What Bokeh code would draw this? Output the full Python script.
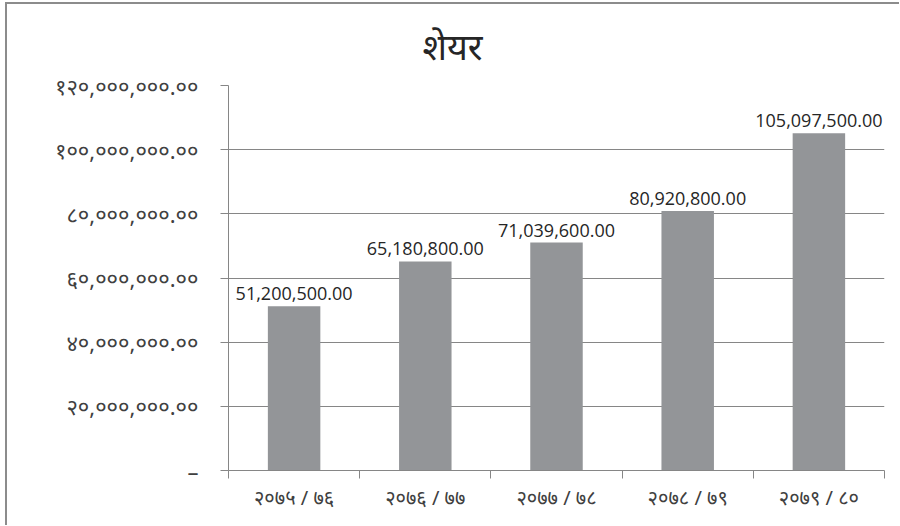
from bokeh.plotting import figure
from bokeh.models import FixedTicker, Range1d, ColumnDataSource, LabelSet, Title
from bokeh.embed import file_html
from bokeh.resources import INLINE
from bokeh.core.properties import value

title_text = "शेयर"
categories = ["२०७५ / ७६", "२०७६ / ७७", "२०७७ / ७८", "२०७८ / ७९", "२०७९ / ८०"]
values = [51200500.00, 65180800.00, 71039600.00, 80920800.00, 105097500.00]
y_ticks = [0, 20000000, 40000000, 60000000, 80000000, 100000000, 120000000]
y_tick_labels = ["–", "२०,०००,०००.००", "४०,०००,०००.००", "६०,०००,०००.००",
                 "८०,०००,०००.००", "१००,०००,०००.००", "१२०,०००,०००.००"]

positions = [i + 0.5 for i in range(len(categories))]
labels = [f"{v:,.2f}" for v in values]
src = ColumnDataSource(dict(x=positions, top=values, label=labels))

AX = "#868686"
p = figure(output_backend="svg", toolbar_location=None,
           frame_width=656, frame_height=385,
           min_border_left=221, min_border_right=15, min_border_top=81, min_border_bottom=55,
           x_range=Range1d(0, len(categories)), y_range=Range1d(0, 120000000))
p.styles = {"margin-left": "5px", "margin-top": "2px",
            "border-left": "2px solid #8c8c8c", "border-top": "2px solid #8c8c8c"}
p.outline_line_color = None
p.background_fill_color = "white"
p.border_fill_color = "white"

p.vbar(x="x", top="top", width=0.4, source=src, fill_color="#939598", line_color=None)

lab = LabelSet(x="x", y="top", text="label", source=src, text_align="center",
               text_baseline="bottom", y_offset=6, text_font=value("Open Sans"),
               text_font_size=value("18px"), text_color=value("#262626"))
p.add_layout(lab)

# title
t = Title(text=title_text, align="left", offset=194, text_font="Noto Sans",
          text_font_size="36px", text_font_style="normal", text_color="#262626", standoff=29)
p.add_layout(t, "above")

# grid
p.xgrid.visible = False
p.ygrid.ticker = FixedTicker(ticks=y_ticks)
p.ygrid.grid_line_color = AX
p.ygrid.grid_line_width = 1

# y axis
p.yaxis.ticker = FixedTicker(ticks=y_ticks)
p.yaxis.major_label_overrides = {t_: l for t_, l in zip(y_ticks, y_tick_labels)}
p.yaxis.axis_line_color = AX
p.yaxis.major_tick_line_color = AX
p.yaxis.major_tick_out = 8
p.yaxis.major_tick_in = 0
p.yaxis.minor_tick_line_color = None
p.yaxis.major_label_standoff = 22
p.yaxis.major_label_text_font = "Noto Sans"
p.yaxis.major_label_text_font_size = "22px"
p.yaxis.major_label_text_color = "#404040"

# x axis
p.xaxis.ticker = FixedTicker(ticks=positions, minor_ticks=list(range(len(categories) + 1)))
p.xaxis.major_label_overrides = {pos: c for pos, c in zip(positions, categories)}
p.xaxis.axis_line_color = AX
p.xaxis.major_tick_line_color = None
p.xaxis.major_tick_out = 0
p.xaxis.major_tick_in = 0
p.xaxis.minor_tick_line_color = AX
p.xaxis.minor_tick_out = 8
p.xaxis.minor_tick_in = 0
p.xaxis.major_label_standoff = 5
p.xaxis.major_label_text_font = "Noto Sans"
p.xaxis.major_label_text_font_size = "20px"
p.xaxis.major_label_text_color = "#404040"

open("out.html", "w").write(file_html(p, INLINE))
